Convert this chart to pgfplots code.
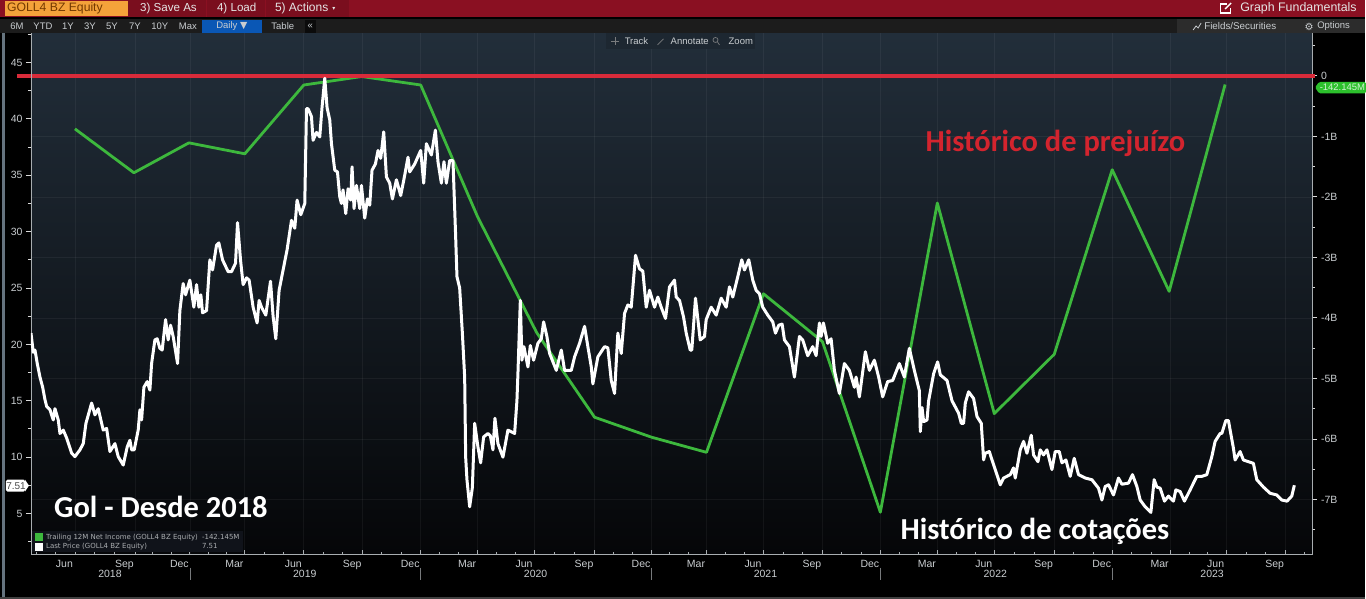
\documentclass[border=0pt]{standalone}
\usepackage{fontspec}
\usepackage{pgfplots}
\usepackage{pgfplotstable}
\pgfplotsset{compat=1.18}
\setmainfont{Liberation Sans}
\newfontfamily\calib{Carlito}
\newfontfamily\dejavu{DejaVu Sans}
\definecolor{barred}{HTML}{8A1022}
\definecolor{barredd}{HTML}{7A0E1E}
\definecolor{barorange}{HTML}{F4A23A}
\definecolor{strip}{HTML}{1C1C1C}
\definecolor{bluebtn}{HTML}{0A57B5}
\definecolor{panel}{HTML}{1D2731}
\definecolor{ink}{HTML}{C9CDD0}
\definecolor{axisgrey}{HTML}{A8ADB0}
\definecolor{edgegrey}{HTML}{66747F}
\definecolor{netgreen}{HTML}{3DB83D}
\definecolor{tagreen}{HTML}{2CC02C}
\definecolor{redline}{HTML}{D92B3A}
\definecolor{redtext}{HTML}{D3242E}
\definecolor{bgtop}{HTML}{222E3A}
\definecolor{bgmid}{HTML}{11171D}
\definecolor{bgbot}{HTML}{050608}
\definecolor{legbg}{HTML}{10131A}
\newcommand\fsz[1]{\fontsize{#1}{#1}\selectfont}
% text placed in image pixels, y counted from the top
\newcommand\lab[5][center]{\node[anchor=#1,inner sep=0pt,text=#4] at (#2,#3) {#5};}
% x column = horizontal position on the time axis, in reference pixels
\pgfplotstableread{
x y
75 -0.875
134 -1.60
189 -1.106
245 -1.287
304 -0.15
362 -0.01
421 -0.15
478 -2.33
537 -4.24
595 -5.64
652 -5.97
707 -6.22
764 -3.60
823 -4.39
881 -7.21
938 -2.10
995 -5.58
1055 -4.60
1113 -1.55
1170 -3.56
1226 -0.142
}\netincome
\pgfplotstableread{
x y
31 21.0
33.3 19.3
35 19.5
37.3 18.3
40 17.1
42.7 16.2
45 15.1
46.7 14.5
50 14.2
53.3 13.3
55 14.3
58.3 13.3
60 12.1
63.3 12.4
66.7 11.7
71.7 10.35
75 10.05
80 10.65
83.3 11.2
86 13
91.7 14.8
95 13.75
98.3 14.3
103.3 12.4
106.7 12.55
110 10.5
115 11.2
118.3 10.05
123.3 9.3
127.3 10.9
130 11.5
131.7 10.65
134.3 10.65
138.3 12.4
140 14.2
141.7 13.3
144 16.2
147.3 16.7
150 15.95
151.7 18.3
155 20.4
157.3 20.5
160 19.65
162.3 19.5
165.7 22.2
168.3 20.4
170.7 21.7
173.3 20.7
177.7 18.3
180 23
183.3 25.4
185.7 24.4
190 25.7
194 23.3
196.7 25.3
199 23.3
201 24.4
202.7 22.8
206.7 23
210 27.5
212.7 26.6
216.7 28.8
219 29
222.7 27.5
228.3 26.45
231.7 26.45
235.7 27.2
237.7 30.8
240.7 27.5
243.3 25.3
246.7 25.9
249.3 25.7
253.3 23.3
257.3 21.9
259.3 23.9
261.7 23.3
266 22.6
270.7 25.6
273.3 22.5
276 20.5
279.3 24.8
283.3 26.6
287.3 28.4
291.7 31
295 30.3
297.3 32.8
301 31.5
305 32.5
306.7 40.9
308.3 40.9
311.7 40.2
313.3 38.1
316.7 38.8
320 38.4
322.3 41.05
325 43.6
327.3 41
330 39.9
331.7 37.8
335 35.45
337.7 35.3
340 33.1
341.7 32.5
343.3 33.7
346 31.6
348.3 33.8
351 32.8
352.3 35.75
354.3 32.05
356.7 34.1
360 32.05
361.7 34.1
365 31.2
367.7 32.9
370 32.35
372.3 35.45
375.7 36
378.3 37.2
381 36.5
384 38.85
386.7 34.85
390 34.3
392.7 32.9
396.7 34.6
401 33.2
405 35
408.3 36.6
410 35.3
415 36
421 37.2
424 34.3
426.7 37.8
431.7 36.8
435.7 39
438.3 36.2
441.7 34.3
444.3 36.2
446.7 34.3
450 36.3
453.3 36.3
455.7 30.3
457.3 26
460 25
462.7 21
465 17.1
466 10
467.3 8
470 5.6
472.7 7.3
475 13
478.3 10.9
481 9.5
484 11.8
488.3 12.1
490.7 11.9
493.3 10.65
495.3 13.45
498.3 11.2
503.3 10
508.3 12.4
515 12.1
517.3 15
518.3 17.4
520.7 23.9
522.3 18.6
524.3 19.8
528.3 18
530.7 19.9
534 18.6
538.3 20.1
541.7 20.5
544 22
547.3 20.7
550 19.2
556.7 17.7
561.7 19.5
565 17.7
571.7 17.7
575 18.9
580 20.1
585 21.6
588.3 19.8
591.7 18
593.3 16.5
598.3 18.9
605 19.8
608.3 19.7
611.7 16.8
615 15.65
618.3 21
621.7 19.2
625 22.75
628.3 23.5
631.7 23.3
636 27.9
640 26.7
643.3 26.5
646.7 23.3
650 24.8
655 23.3
658.3 24.2
661.7 23.3
666 22.3
670 25.1
675 25.7
676.7 24.2
680 23.9
684 22.45
686.7 21
690.7 19.5
692.3 19.5
696 24.1
700.7 20.4
705 20.7
706.7 22.2
711.7 23.3
716.7 22.6
721.7 24.1
726.7 23.3
730 25.1
733.3 24.2
738.3 26
742.3 27.5
745 26.6
749.3 27.5
753.3 25.7
756.7 24.8
760 24.5
763.3 23.3
768.3 22.6
773.3 22
776 21
779.3 21.7
782.7 21.8
785 20.4
790 19.8
795 17.1
800 20.7
803.3 20.4
808.3 19
813.3 19.8
816.7 19
820 21.9
821.7 20.7
824 21.9
828.3 20.1
831.7 20.5
835 17.7
840 15.65
845 18.3
850 17.7
855 16.2
856.7 17.1
860 15.35
866 19.35
870 17.7
875 18.6
879.3 17.1
883.3 15.35
888.3 16.7
893.3 16.8
900 18.3
905 17.1
910 19.65
915 17.7
920 15.9
921 12.27
922.7 14.4
924.3 13.15
927.7 13.3
929.3 15
934.3 17.4
938.3 18.45
941 17.3
947.7 16.8
952.7 15
959.3 13.9
962 13
964.3 13
966 14.8
969.3 15.8
974.3 15.2
977.7 13.6
982 13
984.3 9.76
986 10.35
990 10.5
993.3 9.6
1001 7.55
1004.3 8.15
1011 8.45
1014.3 9.05
1016 8.15
1021 10.65
1024.3 11.4
1027.7 10.35
1032 11.95
1034.3 10.2
1038.7 9.6
1041 10.65
1044.3 10.2
1047.7 10.65
1052.7 8.9
1056 10.5
1060 10.5
1062.7 9.5
1066.7 9.75
1071 8.3
1075 9.9
1079.3 8.45
1086 8.15
1092.7 8
1099.3 7.25
1102.7 6.2
1106 7.4
1109.3 7.55
1114.3 6.65
1119.3 8.15
1122.7 7.6
1129.3 7.7
1133.3 8.45
1137.7 7.4
1141 6.2
1146 5.6
1151.7 5.1
1155 8
1157.7 7.35
1161 7.25
1165.3 6.1
1169.3 6.55
1174.3 6.1
1176.7 7.1
1181 6.95
1185.3 6.1
1191 7.1
1197.7 8.3
1202.7 8.3
1207.7 8.45
1212.7 10.05
1216 11.4
1221 12.1
1222.7 12.1
1226.7 13.25
1229.3 13.25
1234.3 10.8
1236 9.75
1241 10.5
1244.3 9.75
1249.3 9.6
1254.3 9.45
1257.7 8
1264.3 7.35
1271 6.8
1277.7 6.65
1282.7 6.2
1288 6.1
1292.7 6.55
1295.3 7.51
}\lastprice
\pgfplotsset{
  base/.style={
    at={(31pt,44pt)}, anchor=south west, scale only axis,
    width=1282pt, height=522pt,
    xmin=31, xmax=1313,
    axis line style={axisgrey,line width=0.9pt,-},
    tick style={axisgrey,line width=0.8pt},
    tick label style={text=ink,font=\fsz{10.5}},
    /pgf/number format/assume math mode=true,
  },
}
\begin{document}
\begin{tikzpicture}[x=1pt,y=1pt]
\fill[black] (0,0) rectangle (1366,599);
% net income on the right scale, with the dates below
\begin{axis}[base,
  clip=false,
  axis x line*=bottom, axis y line*=right,
  axis background/.style={top color=bgtop,middle color=bgmid,bottom color=bgbot},
  ymin=-7.91, ymax=0.71,
  ytick={0,-1,-2,-3,-4,-5,-6,-7},
  yticklabels={0,-1B,-2B,-3B,-4B,-5B,-6B,-7B},
  minor ytick={0.5,-0.5,-1.5,-2.5,-3.5,-4.5,-5.5,-6.5,-7.5},
  y tick label style={xshift=0.5pt},
  ytick style={white!85!black,line width=1pt},
  ytick align=outside, tick pos=right,
  major tick length=5pt, minor tick length=3pt,
  xtick={75,135,190,245,304,363,421,478,535,595,652,707,764,823,881,938,995,1055,1113,1171,1227,1286},
  xticklabels={Jun,Sep,Dec,Mar,Jun,Sep,Dec,Mar,Jun,Sep,Dec,Mar,Jun,Sep,Dec,Mar,Jun,Sep,Dec,Mar,Jun,Sep},
  minor xtick={36,55,94.7,114.3,153,172,209,227,265,284,324,343,382,402,440,459,497,516,555,575,614,633,670,689,726,745,784,803,842,862,900,919,957,976,1015,1035,1074,1094,1132,1152,1190,1208,1247,1266,1305},
  xtick align=inside, xtick pos=bottom,
  x tick label style={xshift=-10.5pt,yshift=-2pt},
  xmajorgrids, ymajorgrids,
  major grid style={white,opacity=0.05,line width=0.7pt},
]
\addplot[netgreen,line width=2.8pt,line join=round,no marks] table {\netincome};
\addplot[redline,line width=4pt,no marks] coordinates {(17,0) (1316,0)};
\end{axis}
% price on the left scale
\begin{axis}[base,
  axis x line=none, axis y line*=left,
  ymin=1.36, ymax=47.62,
  ytick={5,10,15,20,25,30,35,40,45},
  minor ytick={2.5,7.5,12.5,17.5,22.5,27.5,32.5,37.5,42.5,47.5},
  tick align=outside, tick pos=left,
  major tick length=5pt, minor tick length=3pt,
  ytick style={white!85!black,line width=1pt},
  legend style={at={(0,0)},anchor=south west,xshift=1pt,yshift=2pt,
    draw=none,fill=legbg,inner xsep=3pt,inner ysep=2pt,
    text=ink!85!black,font=\dejavu\fsz{7},row sep=1.2pt,
    nodes={inner sep=0.6pt}},
  legend cell align=left,
]
\addlegendimage{legend image code/.code={\fill[netgreen] (0pt,-3.5pt) rectangle (7pt,3.5pt);}}
\addlegendentry{\hspace*{3pt}\makebox[156pt][l]{Trailing 12M Net Income (GOLL4 BZ Equity)}-142.145M}
\addlegendimage{legend image code/.code={\fill[white] (0pt,-3.5pt) rectangle (7pt,3.5pt);}}
\addlegendentry{\hspace*{3pt}\makebox[156pt][l]{Last Price (GOLL4 BZ Equity)}7.51}
\addplot[white,line width=3pt,line join=round,no marks,forget plot] table {\lastprice};
\end{axis}
% screen chrome and annotations, y measured down from the top
\begin{scope}[shift={(0,599)},yscale=-1]
  \fill[edgegrey] (2,33) rectangle (5,597);
  \fill[black!75!white] (0,597) rectangle (1366,599);
  \fill[barred] (0,0) rectangle (1366,17);
  \fill[barredd] (128,0) rectangle (206,17);
  \fill[barredd] (206.8,0) rectangle (265,17);
  \fill[barredd] (265.8,0) rectangle (349,17);
  \fill[barorange] (5,1) rectangle (128,16);
  \fill[strip] (0,19) rectangle (1366,33);
  \fill[strip!93!white] (1178,19) rectangle (1366,33);
  \fill[bluebtn] (202,20) rectangle (262,33);
  \fill[black!60!strip] (305,20) rectangle (316,33);
  \fill[panel] (606,33) rectangle (756,49);
  \lab[west]{7}{8.5}{black!55!orange}{\fsz{12.2}GOLL4 BZ Equity}
  \lab[west]{140}{8.5}{white!90!black}{\fsz{11.6}3) Save As}
  \lab[west]{217}{8.5}{white!90!black}{\fsz{11.6}4) Load}
  \lab[west]{275}{8.5}{white!90!black}{\fsz{12}5) Actions}
  \lab{334}{9}{white!90!black}{\dejavu\fsz{6}▾}
  \draw[white,line width=1.1pt] (1228,4) -- (1221,4) -- (1221,13) -- (1231,13) -- (1231,8);
  \draw[white,line width=1.3pt] (1226,9) -- (1232,3);
  \lab[west]{1241}{8.5}{white!90!black}{\fsz{12.4}Graph Fundamentals}
  \lab{17}{26.5}{ink}{\fsz{9.5}6M}
  \lab{43}{26.5}{ink}{\fsz{9.5}YTD}
  \lab{68}{26.5}{ink}{\fsz{9.5}1Y}
  \lab{90}{26.5}{ink}{\fsz{9.5}3Y}
  \lab{112}{26.5}{ink}{\fsz{9.5}5Y}
  \lab{135}{26.5}{ink}{\fsz{9.5}7Y}
  \lab{160}{26.5}{ink}{\fsz{9.5}10Y}
  \lab{188}{26.5}{ink}{\fsz{9.5}Max}
  \lab{232}{26.5}{ink}{\fsz{9.5}Daily {\dejavu▼}}
  \lab{283}{26.5}{ink}{\fsz{9.5}Table}
  \lab{310.5}{26.5}{ink}{\fsz{9.5}«}
  \draw[ink,line width=0.8pt] (1194,30) -- (1197,26) -- (1199,28) -- (1202,23);
  \lab[west]{1205}{26.5}{ink}{\fsz{9.8}Fields/Securities}
  \lab{1310}{26.5}{ink}{\dejavu\fsz{10}⚙}
  \lab[west]{1318}{26.5}{ink}{\fsz{9.5}Options}
  \draw[ink!60!black,line width=0.7pt] (611.5,41) -- (619.5,41) (615.5,37) -- (615.5,45);
  \lab[west]{625}{41.5}{ink}{\fsz{9.5}Track}
  \draw[ink!60!black,line width=0.7pt] (658,45) -- (664,39);
  \lab[west]{671}{41.5}{ink}{\fsz{9.5}Annotate}
  \draw[ink!60!black,line width=0.7pt] (716,40) circle (2.5) (718,42) -- (720,45);
  \lab[west]{729}{41.5}{ink}{\fsz{9.5}Zoom}
  % last value tags
  \fill[tagreen,rounded corners=1.5pt] (1316,87.5) -- (1320,82) -- (1367,82) -- (1367,93.5) -- (1320,93.5) -- cycle;
  \lab[west]{1320.5}{87.7}{white!78!tagreen}{\fsz{9.5}-142.145M}
  \fill[white,rounded corners=1.5pt] (6,480) rectangle (25,492);
  \fill[white] (25,480) -- (29,486) -- (25,492) -- cycle;
  \lab{16}{486.2}{black!70!white}{\fsz{10}7.51}
  % year row
  \lab{110}{574}{ink}{\fsz{10.5}2018}
  \lab{305}{574}{ink}{\fsz{10.5}2019}
  \lab{536}{574}{ink}{\fsz{10.5}2020}
  \lab{766}{574}{ink}{\fsz{10.5}2021}
  \lab{996}{574}{ink}{\fsz{10.5}2022}
  \lab{1213}{574}{ink}{\fsz{10.5}2023}
  \foreach \yr in {190,421,652,881,1113}
    \draw[axisgrey!70!black,line width=0.7pt] (\yr,568) -- (\yr,580);
  % annotations
  \lab[west]{926}{143}{redtext}{\calib\bfseries\fsz{30.5}Histórico de prejuízo}
  \lab[west]{54}{507}{white}{\calib\bfseries\fsz{30.5}Gol - Desde 2018}
  \lab[west]{901}{532}{white}{\calib\bfseries\fsz{30.5}Histórico de cotações}
\end{scope}
\end{tikzpicture}
\end{document}
